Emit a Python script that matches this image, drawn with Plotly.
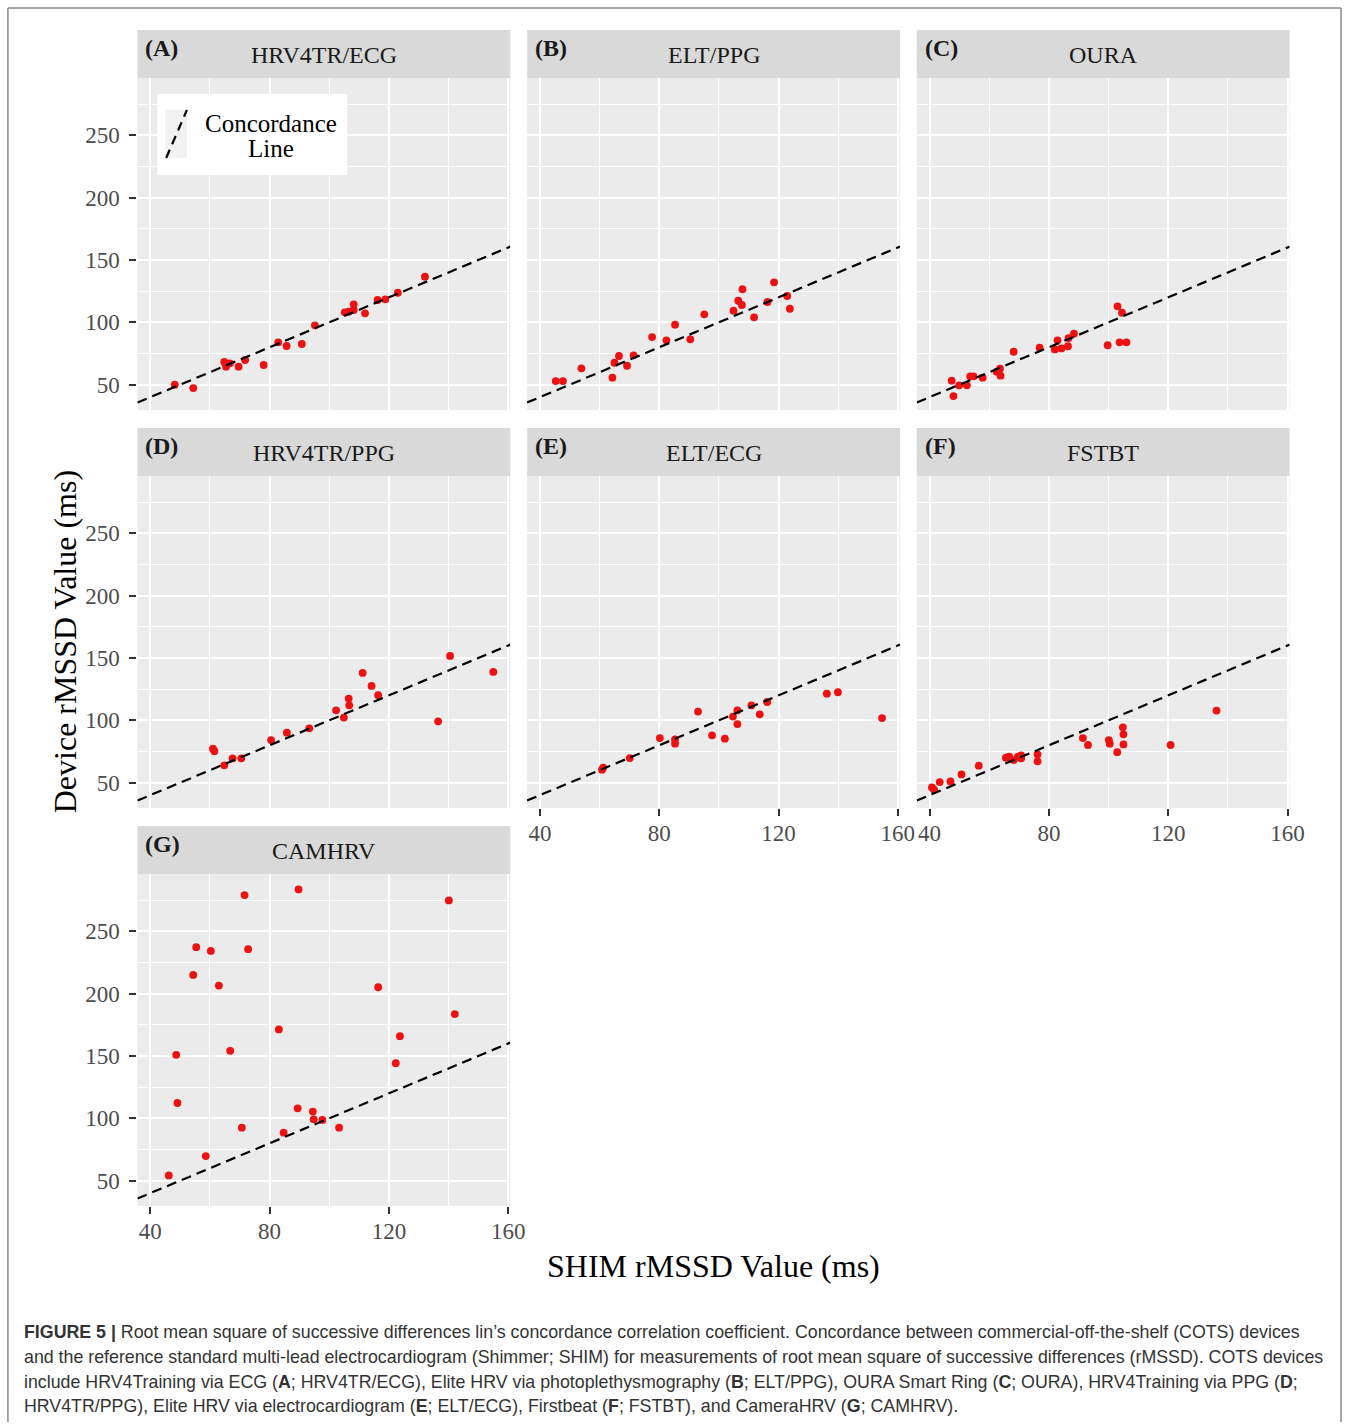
import plotly.graph_objects as go

W, H = 1358, 1426
SERIF = "Liberation Serif, DejaVu Serif, serif"
SANS = "Liberation Sans, Arial, sans-serif"

# ---------------- data ----------------
panel_letters = ["(A)", "(B)", "(C)", "(D)", "(E)", "(F)", "(G)"]
panel_titles = ["HRV4TR/ECG", "ELT/PPG", "OURA", "HRV4TR/PPG", "ELT/ECG", "FSTBT", "CAMHRV"]

a_x = [48.2, 54.4, 64.8, 65.4, 66.7, 69.6, 71.8, 78.0, 82.9, 85.7, 90.8, 95.2, 105.2, 106.5, 108.2, 108.2, 112.0, 116.2, 118.8, 123.0, 132.1]
a_y = [50.0, 47.3, 68.2, 64.4, 67.1, 64.4, 69.8, 65.8, 84.0, 81.0, 82.6, 97.6, 108.0, 108.5, 114.4, 109.9, 107.2, 117.9, 118.4, 123.7, 136.6]

b_x = [45.3, 47.7, 53.9, 64.3, 65.0, 66.5, 69.2, 71.4, 77.6, 82.4, 85.3, 90.4, 95.1, 104.9, 106.5, 107.9, 107.7, 111.8, 116.3, 118.5, 122.9, 123.8]
b_y = [52.9, 52.9, 63.1, 55.6, 67.6, 73.0, 65.2, 73.5, 88.2, 85.6, 98.1, 86.4, 106.4, 109.3, 117.3, 126.5, 113.9, 104.0, 116.3, 132.1, 121.1, 110.9]

c_x = [47.4, 48.0, 49.9, 52.5, 53.6, 54.7, 57.8, 62.5, 63.6, 63.8, 68.2, 76.9, 82.0, 82.9, 84.2, 86.4, 86.6, 88.4, 99.7, 103.0, 104.5, 103.7, 106.0]
c_y = [53.2, 40.9, 49.5, 49.5, 56.7, 56.7, 55.6, 60.4, 62.8, 57.2, 76.4, 79.6, 78.3, 85.6, 79.1, 80.8, 87.4, 90.9, 81.6, 112.8, 107.7, 84.0, 84.0]

d_x = [61.0, 61.5, 64.8, 67.6, 70.5, 80.5, 85.8, 93.3, 102.3, 104.9, 106.5, 106.7, 111.2, 114.2, 116.4, 136.5, 140.5, 155.0]
d_y = [77.3, 75.3, 63.9, 69.5, 69.5, 84.2, 90.1, 93.6, 108.0, 102.2, 117.4, 112.0, 138.0, 127.6, 120.1, 99.2, 151.6, 138.8]

e_x = [60.8, 61.2, 70.1, 80.2, 85.3, 85.3, 93.0, 97.7, 102.0, 104.7, 106.2, 106.2, 110.9, 113.7, 116.2, 136.2, 139.9, 154.7]
e_y = [60.4, 62.0, 69.7, 85.8, 84.7, 81.3, 107.0, 88.0, 85.3, 103.0, 108.0, 97.0, 112.0, 104.8, 114.7, 121.4, 122.5, 101.8]

f_x = [40.8, 41.5, 43.4, 47.0, 50.7, 56.5, 65.6, 66.7, 68.2, 69.6, 70.7, 70.7, 76.2, 76.2, 91.4, 93.1, 100.1, 100.4, 102.9, 104.8, 105.0, 105.0, 120.8, 136.2]
f_y = [46.2, 44.4, 50.5, 51.0, 56.6, 63.6, 70.0, 70.8, 68.1, 70.8, 71.9, 69.5, 72.7, 67.1, 85.8, 80.2, 84.2, 81.3, 74.5, 94.4, 88.8, 80.7, 80.2, 107.8]

g_x = [46.2, 48.7, 49.1, 54.4, 55.4, 58.6, 60.3, 63.0, 66.8, 70.7, 71.6, 72.8, 83.1, 84.7, 89.7, 89.4, 94.5, 94.8, 97.7, 103.3, 116.4, 122.3, 123.7, 140.1, 142.1]
g_y = [54.2, 150.9, 112.3, 215.0, 237.2, 69.7, 234.2, 206.4, 154.1, 92.5, 279.0, 235.6, 171.3, 88.5, 283.5, 108.0, 105.4, 99.2, 98.7, 92.5, 205.1, 144.2, 165.9, 274.7, 183.6]

x_ticks = [40, 80, 120, 160]
x_minor = [60, 100, 140]
y_ticks = [50, 100, 150, 200, 250]
y_minor = [75, 125, 175, 225, 275]
x_range = [35.7, 160.7]
y_range = [29.7, 295.9]

all_x = [a_x, b_x, c_x, d_x, e_x, f_x, g_x]
all_y = [a_y, b_y, c_y, d_y, e_y, f_y, g_y]

# ---------------- layout geometry (pixels from top-left) ----------------
cols_px = [(139, 516), (533, 910), (927, 1304)]
rows_px = [(78, 410), (476, 808), (874, 1206)]
strips_px = [(30, 78), (428, 476), (826, 874)]
show_x_labels = {4, 5, 6}
show_y_labels = {0, 3, 6}


def fx(px):
    return px / W


def fy(py):
    return 1 - py / H


fig = go.Figure()
shapes = []
annotations = []
layout_axes = {}

for i in range(7):
    r, c = divmod(i, 3)
    sfx = "" if i == 0 else str(i + 1)
    x0, x1 = cols_px[c]
    y0, y1 = rows_px[r]

    fig.add_trace(go.Scatter(
        x=all_x[i], y=all_y[i], mode="markers",
        marker=dict(color="#ee1111", size=7.8, line=dict(width=0)),
        xaxis="x" + sfx, yaxis="y" + sfx, showlegend=False, hoverinfo="x+y"))
    fig.add_trace(go.Scatter(
        x=x_range, y=x_range, mode="lines",
        line=dict(color="black", width=2.2, dash="10px,6px"),
        xaxis="x" + sfx, yaxis="y" + sfx, showlegend=False, hoverinfo="skip"))

    sx = i in show_x_labels
    sy = i in show_y_labels
    layout_axes["xaxis" + sfx] = dict(
        domain=[fx(x0), fx(x1)], range=x_range, anchor="y" + sfx,
        tickmode="array", tickvals=x_ticks, showgrid=True, gridcolor="white", gridwidth=2.4,
        zeroline=False, showline=False,
        minor=dict(tickmode="array", tickvals=x_minor, showgrid=True, gridcolor="white", gridwidth=1.2, ticks=""),
        showticklabels=sx, ticks="outside" if sx else "", ticklen=7, tickwidth=2.2, tickcolor="#333333",
        tickfont=dict(family=SERIF, size=23, color="#4d4d4d"), ticklabelstandoff=-3,
    )
    layout_axes["yaxis" + sfx] = dict(
        domain=[fy(y1), fy(y0)], range=y_range, anchor="x" + sfx,
        tickmode="array", tickvals=y_ticks, showgrid=True, gridcolor="white", gridwidth=2.4,
        zeroline=False, showline=False,
        minor=dict(tickmode="array", tickvals=y_minor, showgrid=True, gridcolor="white", gridwidth=1.2, ticks=""),
        showticklabels=sy, ticks="outside" if sy else "", ticklen=7, tickwidth=2.2, tickcolor="#333333",
        tickfont=dict(family=SERIF, size=23, color="#4d4d4d"), ticklabelstandoff=5,
    )

    # strip
    s0, s1 = strips_px[r]
    shapes.append(dict(type="rect", xref="paper", yref="paper",
                       x0=fx(x0), x1=fx(x1), y0=fy(s1), y1=fy(s0),
                       fillcolor="#d9d9d9", line=dict(width=0), layer="below"))
    annotations.append(dict(xref="paper", yref="paper", x=fx(x0 + 6), y=fy(s0 + 18),
                            xanchor="left", yanchor="middle", showarrow=False,
                            text="<b>" + panel_letters[i] + "</b>",
                            font=dict(family=SERIF, size=24, color="#1a1a1a")))
    annotations.append(dict(xref="paper", yref="paper", x=fx((x0 + x1) / 2), y=fy(s0 + 25),
                            xanchor="center", yanchor="middle", showarrow=False,
                            text=panel_titles[i],
                            font=dict(family=SERIF, size=24, color="#1a1a1a")))

# legend box inside panel A
shapes.append(dict(type="rect", xref="paper", yref="paper",
                   x0=fx(159), x1=fx(351), y0=fy(175), y1=fy(94),
                   fillcolor="white", line=dict(width=0), layer="above"))
shapes.append(dict(type="rect", xref="paper", yref="paper",
                   x0=fx(167), x1=fx(189), y0=fy(158), y1=fy(110),
                   fillcolor="#f2f2f2", line=dict(width=0), layer="above"))
shapes.append(dict(type="line", xref="paper", yref="paper",
                   x0=fx(168), x1=fx(189), y0=fy(158), y1=fy(110),
                   line=dict(color="black", width=2.2, dash="9px,6px"), layer="above"))
annotations.append(dict(xref="paper", yref="paper", x=fx(274), y=fy(123),
                        xanchor="center", yanchor="middle", showarrow=False,
                        text="Concordance", font=dict(family=SERIF, size=25, color="black")))
annotations.append(dict(xref="paper", yref="paper", x=fx(274), y=fy(149),
                        xanchor="center", yanchor="middle", showarrow=False,
                        text="Line", font=dict(family=SERIF, size=25, color="black")))

# axis titles
annotations.append(dict(xref="paper", yref="paper", x=fx(66), y=fy(642),
                        xanchor="center", yanchor="middle", showarrow=False, textangle=-90,
                        text="Device rMSSD Value (ms)", font=dict(family=SERIF, size=32, color="black")))
annotations.append(dict(xref="paper", yref="paper", x=fx(721), y=fy(1266),
                        xanchor="center", yanchor="middle", showarrow=False,
                        text="SHIM rMSSD Value (ms)", font=dict(family=SERIF, size=32, color="black")))

# caption
caption_lines = [
    "<b>FIGURE 5 |</b> Root mean square of successive differences lin\u2019s concordance correlation coefficient. Concordance between commercial-off-the-shelf (COTS) devices",
    "and the reference standard multi-lead electrocardiogram (Shimmer; SHIM) for measurements of root mean square of successive differences (rMSSD). COTS devices",
    "include HRV4Training via ECG (<b>A</b>; HRV4TR/ECG), Elite HRV via photoplethysmography (<b>B</b>; ELT/PPG), OURA Smart Ring (<b>C</b>; OURA), HRV4Training via PPG (<b>D</b>;",
    "HRV4TR/PPG), Elite HRV via electrocardiogram (<b>E</b>; ELT/ECG), Firstbeat (<b>F</b>; FSTBT), and CameraHRV (<b>G</b>; CAMHRV).",
]
caption_y = [1332, 1357, 1382, 1406]
for line, py in zip(caption_lines, caption_y):
    annotations.append(dict(xref="paper", yref="paper", x=fx(22), y=fy(py),
                            xanchor="left", yanchor="middle", showarrow=False, align="left",
                            text=line, font=dict(family=SANS, size=17.8, color="#333333")))

# outer frame
for (x0, y0, x1, y1) in [(8, 8, 8, 1422), (8, 8, 1356, 8), (1356, 8, 1356, 1422)]:
    shapes.append(dict(type="line", xref="paper", yref="paper",
                       x0=fx(x0), x1=fx(x1), y0=fy(y0), y1=fy(y1),
                       line=dict(color="#8a8a8a", width=1.5), layer="above"))

fig.update_layout(
    width=W, height=H, autosize=False, margin=dict(l=0, r=0, t=0, b=0, pad=0),
    paper_bgcolor="white", plot_bgcolor="#ebebeb",
    showlegend=False, shapes=shapes, annotations=annotations,
    **layout_axes,
)

fig.write_html("out.html", config={"responsive": False})
